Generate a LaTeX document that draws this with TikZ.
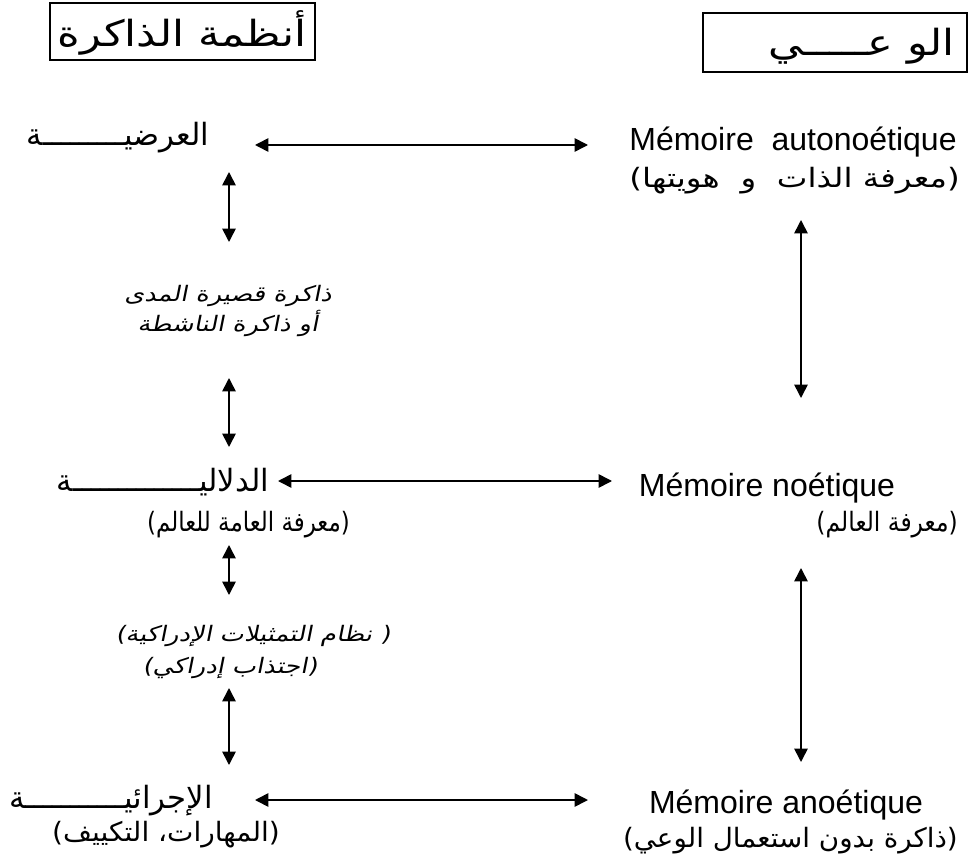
\documentclass[tikz,border=0pt]{standalone}
\usepackage{fontspec}
\usepackage{graphicx}
\setmainfont{Liberation Sans}
\newfontfamily\arabicfont[Script=Arabic]{DejaVu Sans}
\newfontfamily\arabicit[Script=Arabic,FakeSlant=0.2,FakeStretch=1.2]{DejaVu Sans}
\TeXXeTstate=1
\usetikzlibrary{arrows.meta}
\newcommand\SX[2]{\scalebox{#1}[1]{\arabicfont #2}}
\tikzset{
  link/.style={{Triangle[width=10pt,length=10pt]}-{Triangle[width=10pt,length=10pt]}, line width=1.2pt},
  titlebox/.style={draw, line width=1pt, inner sep=0pt},
  lbl/.style={inner sep=0pt, font=\fontsize{23}{28}\selectfont\arabicfont},
  ttl/.style={inner sep=0pt, font=\fontsize{27}{32}\selectfont},
  latlbl/.style={inner sep=0pt, font=\fontsize{24}{28}\selectfont},
  sublbl/.style={inner sep=0pt, anchor=east, font=\fontsize{20}{24}\selectfont},
  itlbl/.style={inner sep=0pt, align=center, font=\fontsize{16}{23}\selectfont\arabicit},
}
\begin{document}
\begin{tikzpicture}[x=0.75pt,y=-0.75pt]
\useasboundingbox (0,0) rectangle (968,863);
% title boxes
\node[titlebox, minimum width=265*0.75pt, minimum height=57*0.75pt] (t1) at (182.5,31.5) {};
\node[ttl] (t1txt) at (182,33) {\SX{1.2}{\beginR أنظمة الذاكرة\endR}};
\node[titlebox, minimum width=264*0.75pt, minimum height=59*0.75pt] (t2) at (835,42.5) {};
\node[ttl, anchor=east] (t2txt) at (955,46) {\SX{1.2}{\beginR الو عـــــي\endR}};
% left column
\node[lbl] (ardiya) at (118,138) {\beginR العرضيـــــــــة\endR};
\node[itlbl] (stm) at (228,311) {\beginR ذاكرة قصيرة المدى\endR\\\beginR أو ذاكرة الناشطة\endR};
\node[lbl] (dalaliya) at (163,482) {\beginR الدلاليــــــــــــــة\endR};
\node[sublbl] (dalsub) at (350,525) {\SX{0.86}{\beginR (معرفة العامة للعالم)\endR}};
\node[itlbl] (perc1) at (253,636) {\beginR ( نظام التمثيلات الإدراكية)\endR};
\node[itlbl] (perc2) at (230,668) {\beginR (اجتذاب إدراكي)\endR};
\node[lbl] (ijraiya) at (111,801) {\beginR الإجرائيـــــــــــة\endR};
\node[sublbl] (ijrsub) at (280,835) {\SX{1.05}{\beginR (المهارات، التكييف)\endR}};
% right column
\node[latlbl] (auto) at (793,142) {Mémoire\ \ autonoétique};
\node[sublbl] (autosub) at (960,181) {\SX{1.22}{\beginR (معرفة الذات\ \ و\ \ هويتها)\endR}};
\node[latlbl] (noet) at (767,488) {Mémoire noétique};
\node[sublbl] (noetsub) at (958,525) {\SX{0.88}{\beginR (معرفة العالم)\endR}};
\node[latlbl] (anoet) at (786,805) {Mémoire anoétique};
\node[sublbl] (anoetsub) at (958,841) {\SX{1.04}{\beginR (ذاكرة بدون استعمال الوعي)\endR}};
% connector end points
\coordinate (h1a) at (255,145); \coordinate (h1b) at (588,145);
\coordinate (h2a) at (278,481); \coordinate (h2b) at (612,481);
\coordinate (h3a) at (255,800); \coordinate (h3b) at (588,800);
\coordinate (l1a) at (229,172); \coordinate (l1b) at (229,242);
\coordinate (l2a) at (229,378); \coordinate (l2b) at (229,447);
\coordinate (l3a) at (229,545); \coordinate (l3b) at (229,595);
\coordinate (l4a) at (229,688); \coordinate (l4b) at (229,765);
\coordinate (r1a) at (801,220); \coordinate (r1b) at (801,398);
\coordinate (r2a) at (801,568); \coordinate (r2b) at (801,762);
\draw[link] (h1a) -- (h1b);
\draw[link] (h2a) -- (h2b);
\draw[link] (h3a) -- (h3b);
\draw[link] (l1a) -- (l1b);
\draw[link] (l2a) -- (l2b);
\draw[link] (l3a) -- (l3b);
\draw[link] (l4a) -- (l4b);
\draw[link] (r1a) -- (r1b);
\draw[link] (r2a) -- (r2b);
\end{tikzpicture}
\end{document}
